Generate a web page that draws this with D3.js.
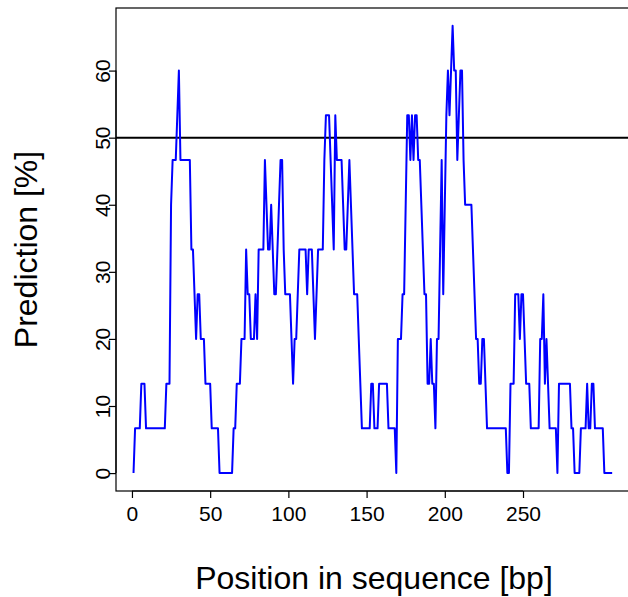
<!DOCTYPE html>
<html>
<head>
<meta charset="utf-8">
<script src="https://cdn.jsdelivr.net/npm/d3@7"></script>
<style>
  body { margin: 0; background: #fff; }
  svg text { font-family: "Liberation Sans", Arial, Helvetica, sans-serif; }
</style>
</head>
<body>
<div id="chart"></div>
<script>
// prediction [%] for each position 1..307 (windowed, multiples of 100/15)
const prediction = [
  0, 6.67, 6.67, 6.67, 6.67, 13.33, 13.33, 13.33, 6.67, 6.67,
  6.67, 6.67, 6.67, 6.67, 6.67, 6.67, 6.67, 6.67, 6.67, 6.67,
  6.67, 13.33, 13.33, 13.33, 40, 46.67, 46.67, 46.67, 53.33, 60,
  46.67, 46.67, 46.67, 46.67, 46.67, 46.67, 46.67, 33.33, 33.33, 26.67,
  20, 26.67, 26.67, 20, 20, 20, 13.33, 13.33, 13.33, 13.33,
  6.67, 6.67, 6.67, 6.67, 6.67, 0, 0, 0, 0, 0,
  0, 0, 0, 0, 6.67, 6.67, 13.33, 13.33, 13.33, 20,
  20, 20, 33.33, 26.67, 26.67, 20, 20, 20, 26.67, 20,
  33.33, 33.33, 33.33, 33.33, 46.67, 40, 33.33, 33.33, 40, 33.33,
  26.67, 26.67, 33.33, 40, 46.67, 46.67, 33.33, 26.67, 26.67, 26.67,
  26.67, 20, 13.33, 20, 20, 26.67, 33.33, 33.33, 33.33, 33.33,
  33.33, 26.67, 33.33, 33.33, 33.33, 26.67, 20, 26.67, 33.33, 33.33,
  33.33, 33.33, 46.67, 53.33, 53.33, 53.33, 46.67, 40, 33.33, 53.33,
  46.67, 46.67, 46.67, 46.67, 40, 33.33, 33.33, 40, 46.67, 40,
  33.33, 26.67, 26.67, 26.67, 20, 13.33, 6.67, 6.67, 6.67, 6.67,
  6.67, 6.67, 13.33, 13.33, 6.67, 6.67, 6.67, 13.33, 13.33, 13.33,
  13.33, 13.33, 13.33, 6.67, 6.67, 6.67, 6.67, 6.67, 0, 20,
  20, 20, 26.67, 26.67, 40, 53.33, 53.33, 46.67, 53.33, 46.67,
  53.33, 53.33, 46.67, 46.67, 40, 33.33, 26.67, 26.67, 13.33, 13.33,
  20, 13.33, 13.33, 6.67, 20, 20, 33.33, 46.67, 26.67, 40,
  53.33, 60, 53.33, 60, 66.67, 60, 60, 46.67, 53.33, 60,
  60, 46.67, 40, 40, 40, 40, 40, 33.33, 26.67, 20,
  20, 13.33, 13.33, 20, 20, 13.33, 6.67, 6.67, 6.67, 6.67,
  6.67, 6.67, 6.67, 6.67, 6.67, 6.67, 6.67, 6.67, 6.67, 0,
  0, 13.33, 13.33, 13.33, 26.67, 26.67, 26.67, 20, 26.67, 26.67,
  20, 13.33, 13.33, 13.33, 6.67, 6.67, 6.67, 6.67, 6.67, 6.67,
  20, 20, 26.67, 13.33, 20, 13.33, 6.67, 6.67, 6.67, 6.67,
  6.67, 0, 13.33, 13.33, 13.33, 13.33, 13.33, 13.33, 13.33, 13.33,
  6.67, 6.67, 0, 0, 0, 0, 6.67, 6.67, 6.67, 6.67,
  13.33, 6.67, 6.67, 13.33, 13.33, 6.67, 6.67, 6.67, 6.67, 6.67,
  6.67, 0, 0, 0, 0, 0, 0
];
const positions = prediction.map((v, i) => i + 1);
const xTicks = [0, 50, 100, 150, 200, 250];
const yTicks = [0, 10, 20, 30, 40, 50, 60];
const threshold = 50;

const width = 628, height = 597;
const box = { left: 116, right: 630, top: 8, bottom: 491 };

const svg = d3.select("#chart").append("svg")
  .attr("width", width).attr("height", height);

const x = d3.scaleLinear().domain([-10.2, 318.4]).range([box.left, box.right]);
const y = d3.scaleLinear().domain([-2.67, 69.33]).range([box.bottom, box.top]);

// x axis ticks + labels
const xAxis = svg.append("g").attr("transform", `translate(0,${box.bottom})`)
  .call(d3.axisBottom(x).tickValues(xTicks).tickSize(7).tickPadding(8).tickFormat(d3.format("d")));
xAxis.select(".domain").attr("d", `M${x(0)},0H${x(250)}`).attr("stroke-width", 1.2);
xAxis.selectAll("line").attr("stroke-width", 1.2);
xAxis.selectAll("text").attr("font-size", 21).attr("fill", "#000")
  .attr("font-family", "Liberation Sans, Arial, sans-serif");

// y axis ticks + rotated labels
const yAxis = svg.append("g").attr("transform", `translate(${box.left},0)`)
  .call(d3.axisLeft(y).tickValues(yTicks).tickSize(7).tickFormat(d3.format("d")));
yAxis.select(".domain").attr("d", `M0,${y(0)}V${y(60)}`).attr("stroke-width", 1.2);
yAxis.selectAll("line").attr("stroke-width", 1.2);
yAxis.selectAll("text")
  .attr("font-size", 21).attr("fill", "#000")
  .attr("font-family", "Liberation Sans, Arial, sans-serif")
  .attr("x", null).attr("dy", null).attr("y", 0)
  .attr("text-anchor", "middle")
  .attr("transform", "translate(-6,0) rotate(-90)");

// plot box
svg.append("rect")
  .attr("x", box.left).attr("y", box.top)
  .attr("width", box.right - box.left).attr("height", box.bottom - box.top)
  .attr("fill", "none").attr("stroke", "#000").attr("stroke-width", 1.2);

// threshold line
svg.append("line")
  .attr("x1", box.left).attr("x2", box.right)
  .attr("y1", y(threshold)).attr("y2", y(threshold))
  .attr("stroke", "#000").attr("stroke-width", 2);

// prediction line
const line = d3.line().x((d, i) => x(positions[i])).y(d => y(d));
svg.append("path").datum(prediction)
  .attr("fill", "none").attr("stroke", "#0000ff").attr("stroke-width", 2)
  .attr("stroke-linejoin", "round").attr("d", line);

// axis titles
svg.append("text")
  .attr("x", 374).attr("y", 589)
  .attr("text-anchor", "middle").attr("font-size", 32)
  .text("Position in sequence [bp]");

svg.append("text")
  .attr("transform", `translate(37,${(box.top + box.bottom) / 2}) rotate(-90)`)
  .attr("text-anchor", "middle").attr("font-size", 32)
  .text("Prediction [%]");
</script>
</body>
</html>
